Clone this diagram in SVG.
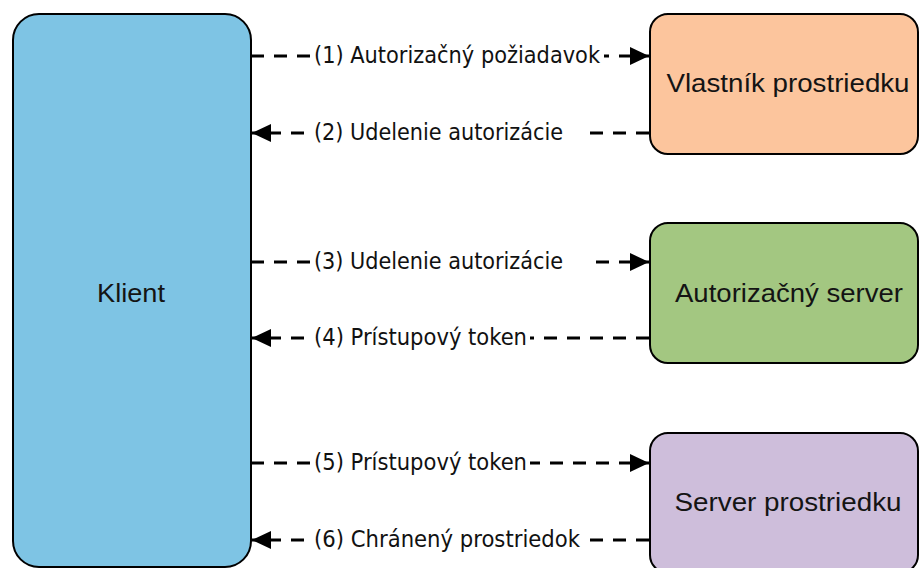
<svg xmlns="http://www.w3.org/2000/svg" width="920" height="568" viewBox="0 0 920 568">
<style>
.box{stroke:#000;stroke-width:2}
.ntext{font-family:"Liberation Sans",Arial,sans-serif;font-size:26px;fill:#141414;text-anchor:middle}
.conn{stroke:#000;stroke-width:2.8;stroke-dasharray:13 10;fill:none}
.lbg{fill:#fff}
.ltext{font-family:"DejaVu Sans Condensed","Liberation Sans",sans-serif;font-size:23px;fill:#111}
</style>
<defs>
<marker id="ah" markerUnits="userSpaceOnUse" markerWidth="20" markerHeight="20" refX="19" refY="9" orient="auto">
<path d="M0,0 L19,9 L0,18 z" fill="#000"/>
</marker>
</defs>
<rect width="920" height="568" fill="#fff"/>
<g id="connectors">
<line class="conn" x1="251" y1="56" x2="649" y2="56" marker-end="url(#ah)"/>
<line class="conn" x1="649" y1="133" x2="252" y2="133" marker-end="url(#ah)"/>
<line class="conn" x1="251" y1="262" x2="649" y2="262" marker-end="url(#ah)"/>
<line class="conn" x1="649" y1="338" x2="252" y2="338" marker-end="url(#ah)"/>
<line class="conn" x1="251" y1="463" x2="649" y2="463" marker-end="url(#ah)"/>
<line class="conn" x1="649" y1="540" x2="252" y2="540" marker-end="url(#ah)"/>
<rect class="lbg" x="312" y="42" width="292" height="28"/>
<rect class="lbg" x="312" y="119" width="271" height="28"/>
<rect class="lbg" x="312" y="248" width="275" height="28"/>
<rect class="lbg" x="312" y="324" width="218" height="28"/>
<rect class="lbg" x="312" y="449" width="218" height="28"/>
<rect class="lbg" x="312" y="526" width="272" height="28"/>
<text class="ltext" x="314" y="63" textLength="286" lengthAdjust="spacingAndGlyphs">(1) Autorizačný požiadavok</text>
<text class="ltext" x="314" y="140" textLength="249" lengthAdjust="spacingAndGlyphs">(2) Udelenie autorizácie</text>
<text class="ltext" x="314" y="269" textLength="249" lengthAdjust="spacingAndGlyphs">(3) Udelenie autorizácie</text>
<text class="ltext" x="314" y="345" textLength="213" lengthAdjust="spacingAndGlyphs">(4) Prístupový token</text>
<text class="ltext" x="314" y="470" textLength="213" lengthAdjust="spacingAndGlyphs">(5) Prístupový token</text>
<text class="ltext" x="314" y="547" textLength="266" lengthAdjust="spacingAndGlyphs">(6) Chránený prostriedok</text>
</g>
<g id="klient">
<rect class="box" x="13" y="14" width="238" height="553" rx="26" ry="26" fill="#7EC4E4"/>
<text class="ntext" x="131" y="302" textLength="68" lengthAdjust="spacingAndGlyphs">Klient</text>
</g>
<g id="vlastnik">
<rect class="box" x="650" y="14" width="268" height="140" rx="18" ry="18" fill="#FCC59D"/>
<text class="ntext" x="788" y="92" textLength="243" lengthAdjust="spacingAndGlyphs">Vlastník prostriedku</text>
</g>
<g id="autorizacny-server">
<rect class="box" x="650" y="223" width="268" height="140" rx="18" ry="18" fill="#A3C781"/>
<text class="ntext" x="789" y="302" textLength="228" lengthAdjust="spacingAndGlyphs">Autorizačný server</text>
</g>
<g id="server-prostriedku">
<rect class="box" x="650" y="433" width="268" height="140" rx="18" ry="18" fill="#CEBEDB"/>
<text class="ntext" x="788" y="511" textLength="227" lengthAdjust="spacingAndGlyphs">Server prostriedku</text>
</g>
</svg>
